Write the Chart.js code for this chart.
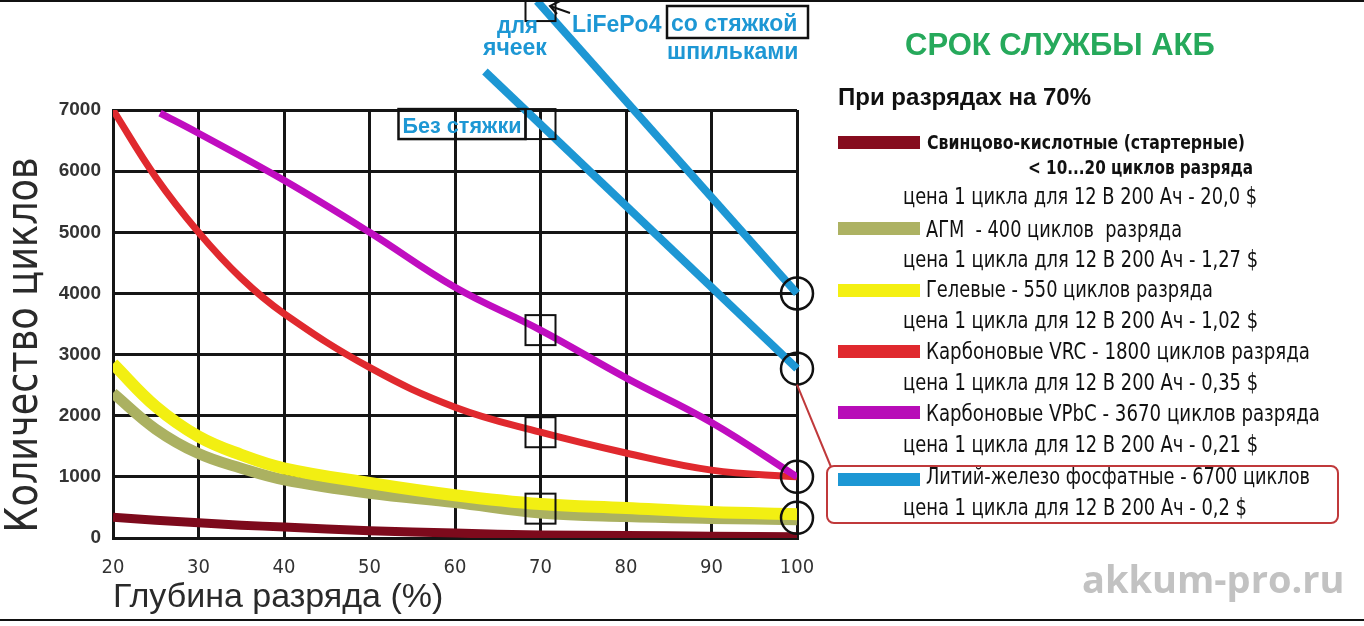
<!DOCTYPE html>
<html>
<head>
<meta charset="utf-8">
<script src="https://cdn.jsdelivr.net/npm/chart.js@4/dist/chart.umd.min.js"></script>
<style>
  html, body { margin: 0; padding: 0; background: #fff; }
  canvas { display: block; }
</style>
</head>
<body>
<canvas id="chart-canvas" width="1364" height="626"></canvas>
<script>
// depth of discharge, %
const depth = [20, 25, 30, 35, 40, 50, 60, 70, 80, 90, 100];

// cycles
const leadAcid = [340, 290, 250, 210, 180, 120, 80, 50, 40, 30, 20];
const agm = [2370, 1780, 1380, 1140, 950, 730, 580, 410, 350, 320, 300];
const gel = [2850, 2150, 1660, 1360, 1140, 900, 700, 555, 490, 425, 390];
const carbonVrc = [7000, 5900, 5000, 4250, 3670, 2790, 2140, 1730, 1390, 1110, 1000];

const vpbcDepth = [25.5, 30, 40, 50, 60, 70, 80, 90, 100];
const carbonVpbc = [6950, 6620, 5850, 5000, 4100, 3400, 2620, 1890, 1000];

const lfpTieDepth = [69.6, 100];
const lfpTie = [8780, 4000];
const lfpNoTieDepth = [63.5, 100];
const lfpNoTie = [7630, 2770];

// marks at 70% and 100%
const markDepth = 70;
const boxMarks = [8700, 6770, 3400, 1730, 480];
const circleMarks = [4000, 2770, 1000, 330];

const yTicks = [0, 1000, 2000, 3000, 4000, 5000, 6000, 7000];

const legendNames = [
  "Свинцово-кислотные (стартерные)",
  "АГМ  - 400 циклов  разряда",
  "Гелевые - 550 циклов разряда",
  "Карбоновые VRC - 1800 циклов разряда",
  "Карбоновые VPbC - 3670 циклов разряда",
  "Литий-железо фосфатные - 6700 циклов",
];
const legendPrices = [
  "цена 1 цикла для 12 В 200 Ач - 20,0 $",
  "цена 1 цикла для 12 В 200 Ач - 1,27 $",
  "цена 1 цикла для 12 В 200 Ач - 1,02 $",
  "цена 1 цикла для 12 В 200 Ач - 0,35 $",
  "цена 1 цикла для 12 В 200 Ач - 0,21 $",
  "цена 1 цикла для 12 В 200 Ач - 0,2 $",
];
const legendColors = ["#860c1e", "#adb263", "#f4f012", "#e0292e", "#b80cb8", "#1d97d4"];

const toPoints = (xs, ys) => {
  return xs.map((x, i) => ({ x: x, y: ys[i] }));
};

const NARROW = "'Liberation Sans Narrow', 'DejaVu Sans Condensed', 'Liberation Sans', sans-serif";

const text = (ctx, s, x, y, font, color, maxW, align) => {
  ctx.font = font;
  ctx.fillStyle = color;
  ctx.textAlign = align || "left";
  ctx.textBaseline = "alphabetic";
  if (maxW) ctx.fillText(s, x, y, maxW);
  else ctx.fillText(s, x, y);
};

const decor = {
  id: "decor",
  afterDatasetsDraw(chart) {
    const ctx = chart.ctx;
    const x = chart.scales.x;
    const y = chart.scales.y;
    ctx.save();
    ctx.strokeStyle = "#111";
    ctx.lineWidth = 2;
    const mx = x.getPixelForValue(markDepth);
    boxMarks.forEach((v) => {
      const py = y.getPixelForValue(v);
      ctx.strokeRect(mx - 15, py - 15, 30, 30);
    });
    ctx.lineWidth = 2.5;
    const cx = x.getPixelForValue(100);
    circleMarks.forEach((v) => {
      ctx.beginPath();
      ctx.ellipse(cx, y.getPixelForValue(v), 16, 16, 0, 0, Math.PI * 2);
      ctx.stroke();
    });

    // "Без стяжки" box next to the square on the lower blue line
    const by = y.getPixelForValue(boxMarks[1]);
    ctx.lineWidth = 2.5;
    ctx.strokeRect(mx - 15 - 127, by - 15, 127, 30);
    text(ctx, "Без стяжки", mx - 15 - 123, by + 9, "bold 22px 'Liberation Sans', sans-serif", "#1d97d4", 119);
    ctx.restore();
  },
  afterDraw(chart) {
    const ctx = chart.ctx;
    const x = chart.scales.x;
    const y = chart.scales.y;
    ctx.save();
    const blue = "#1d97d4";
    const bold23 = "bold 23px 'Liberation Sans', sans-serif";

    // frame lines
    ctx.fillStyle = "#111";
    ctx.fillRect(0, 0, 1364, 2);
    ctx.fillRect(0, 619, 1364, 2);

    // labels near the top of the LiFePo4 lines
    text(ctx, "для", 497, 33, bold23, blue, 41);
    text(ctx, "ячеек", 483, 55, bold23, blue, 67);
    text(ctx, "LiFePo4", 572, 32, bold23, blue, 91);
    text(ctx, "со стяжкой", 671, 31, bold23, blue, 132);
    text(ctx, "шпильками", 667, 59, bold23, blue, 135);
    ctx.strokeStyle = "#111";
    ctx.lineWidth = 2.5;
    ctx.strokeRect(667, 6, 141, 32);
    ctx.lineWidth = 2;
    ctx.beginPath();
    ctx.moveTo(570, 13);
    ctx.lineTo(550, 6);
    ctx.moveTo(560, 1);
    ctx.lineTo(550, 6);
    ctx.lineTo(557, 14);
    ctx.stroke();

    // axis titles
    text(ctx, "Глубина разряда (%)", x.left, 607, "34px 'Liberation Sans', sans-serif", "#2a2a2a", 372);
    ctx.save();
    ctx.translate(37, 345);
    ctx.rotate(-Math.PI / 2);
    text(ctx, "Количество циклов", 0, 0, "44px 'DejaVu Sans', sans-serif", "#2a2a2a", 375, "center");
    ctx.restore();

    // right-hand block
    text(ctx, "СРОК СЛУЖБЫ АКБ", 905, 55, "bold 31px 'Liberation Sans', sans-serif", "#26a95b", 313);
    text(ctx, "При разрядах на 70%", 838, 105, "bold 24px 'Liberation Sans', sans-serif", "#111", 260);

    const swatchTop = [136, 222, 284, 345, 406, 473];
    legendColors.forEach((c, i) => {
      ctx.fillStyle = c;
      ctx.fillRect(838, swatchTop[i], 82, 13);
    });

    const reg = "23px " + NARROW;
    const bold = "bold 20px " + NARROW;
    text(ctx, legendNames[0], 927, 149, bold, "#111", 318);
    text(ctx, "< 10...20 циклов разряда", 1028, 174, bold, "#111", 225);
    text(ctx, legendPrices[0], 903, 204, reg, "#111", 354);
    const nameY = [0, 237, 297, 359, 421, 484];
    const nameW = [0, 256, 287, 384, 394, 384];
    const priceY = [204, 267, 328, 390, 452, 515];
    const priceW = [354, 355, 355, 355, 355, 344];
    for (let i = 1; i < legendNames.length; i++) {
      text(ctx, legendNames[i], 926, nameY[i], reg, "#111", nameW[i]);
      text(ctx, legendPrices[i], 903, priceY[i], reg, "#111", priceW[i]);
    }

    // highlight around the LiFePo4 entry
    ctx.strokeStyle = "#c0393b";
    ctx.lineWidth = 2;
    ctx.beginPath();
    ctx.roundRect(827, 466, 511, 57, 7);
    ctx.stroke();
    ctx.beginPath();
    ctx.moveTo(x.getPixelForValue(100), y.getPixelForValue(circleMarks[1]) + 16);
    ctx.lineTo(831, 467);
    ctx.stroke();

    // watermark
    text(ctx, "akkum-pro.ru", 1082, 593, "bold 38px 'Open Sans', sans-serif", "#c2c2c2", 266);
    ctx.restore();
  },
};

let ctx = document.getElementById("chart-canvas");

let cycleChart = new Chart(ctx, {
  type: "line",
  data: {
    datasets: [
      {
        label: "LiFePo4 со стяжкой",
        data: toPoints(lfpTieDepth, lfpTie),
        borderColor: "#1d97d4",
        borderWidth: 8,
        tension: 0,
        clip: false,
      },
      {
        label: "LiFePo4 без стяжки",
        data: toPoints(lfpNoTieDepth, lfpNoTie),
        borderColor: "#1d97d4",
        borderWidth: 8,
        tension: 0,
        clip: false,
      },
      {
        label: "Карбоновые VPbC",
        data: toPoints(vpbcDepth, carbonVpbc),
        borderColor: "#c00dc0",
        borderWidth: 7,
      },
      {
        label: "Карбоновые VRC",
        data: toPoints(depth, carbonVrc),
        borderColor: "#e0292e",
        borderWidth: 7,
      },
      {
        label: "Гелевые",
        data: toPoints(depth, gel),
        borderColor: "#f2ef12",
        borderWidth: 12,
      },
      {
        label: "АГМ",
        data: toPoints(depth, agm),
        borderColor: "#abb161",
        borderWidth: 11,
      },
      {
        label: "Свинцово-кислотные",
        data: toPoints(depth, leadAcid),
        borderColor: "#7d0a1c",
        borderWidth: 9,
      },
    ],
  },
  options: {
    responsive: false,
    animation: false,
    events: [],
    elements: {
      point: { radius: 0 },
      line: { fill: false, borderCapStyle: "butt", tension: 0.4 },
    },
    layout: { padding: { left: 0, top: 110, right: 567, bottom: 0 } },
    plugins: {
      legend: { display: false },
      tooltip: { enabled: false },
    },
    scales: {
      x: {
        type: "linear",
        min: 20,
        max: 100,
        afterFit: (scale) => {
          scale.height = 88;
        },
        ticks: {
          stepSize: 10,
          padding: 18,
          color: "#333",
          font: { family: NARROW, size: 20 },
        },
        grid: { color: "#151515", lineWidth: 3, drawTicks: false },
        border: { color: "#151515", width: 3 },
      },
      y: {
        min: 0,
        max: 7000,
        afterFit: (scale) => {
          scale.width = 113;
        },
        afterBuildTicks: (scale) => {
          scale.ticks = yTicks.map((v) => ({ value: v }));
        },
        ticks: {
          padding: 12,
          color: "#333",
          font: { family: "'Liberation Sans', sans-serif", size: 19, weight: "bold" },
          callback: (v) => String(v),
        },
        grid: { color: "#151515", lineWidth: 3, drawTicks: false },
        border: { color: "#151515", width: 3 },
      },
    },
  },
  plugins: [decor],
});
</script>
</body>
</html>
